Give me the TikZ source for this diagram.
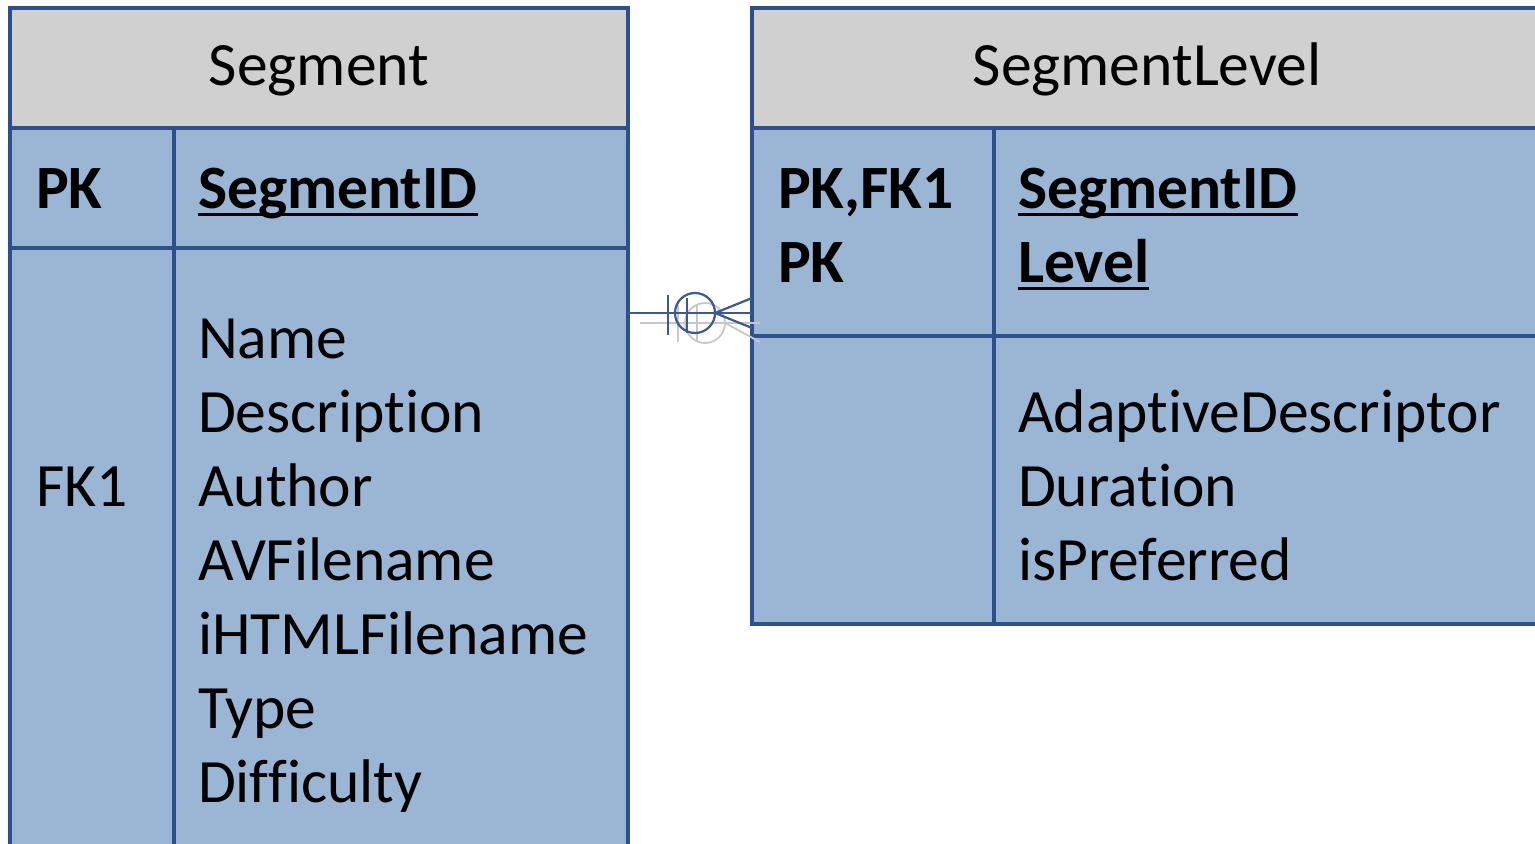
\documentclass[tikz,border=0pt]{standalone}
\usepackage{fontspec}
\setmainfont{Carlito}[Ligatures=NoCommon]
\definecolor{bordblue}{RGB}{46,80,138}
\definecolor{bodyfill}{RGB}{155,181,213}
\definecolor{headfill}{RGB}{208,208,208}
\definecolor{relcol}{RGB}{60,90,140}
\newcommand\tfont{\fontsize{30.8}{37}\selectfont}
\newcommand\myul[1]{\setbox0\hbox{#1}\rlap{\rule[-3.6pt]{\wd0}{1.5pt}}\box0}
\tikzset{
  cell/.style={draw=bordblue, line width=1.8pt, fill=bodyfill, inner sep=0pt, outer sep=0pt, anchor=north west},
  headcell/.style={cell, fill=headfill},
  txt/.style={inner sep=0pt, outer sep=0pt, anchor=base west, font=\tfont, text=black},
  headtxt/.style={txt, anchor=base},
  keytxt/.style={txt, font=\tfont\bfseries},
  rel/.style={draw=relcol, line width=1.1pt},
  ghost/.style={draw=black!22, line width=0.9pt},
}
\begin{document}
\begin{tikzpicture}[x=0.5pt, y=-0.5pt]
\useasboundingbox (0,0) rectangle (1535,844);
\clip (0,0) rectangle (1535,844);
\fill[white] (0,0) rectangle (1535,844);

% ---------- Segment table ----------
\node[headcell, minimum width=309pt, minimum height=60pt] (seghead) at (10,8) {};
\node[cell, minimum width=82pt, minimum height=60pt] (segpkkey) at (10,128) {};
\node[cell, minimum width=227pt, minimum height=60pt] (segpkname) at (174,128) {};
\node[cell, minimum width=82pt, minimum height=330pt] (segbodykey) at (10,248) {};
\node[cell, minimum width=227pt, minimum height=330pt] (segbodyname) at (174,248) {};

\node[headtxt] (segtitle) at (319,86) {Segment};
\node[keytxt] (segpk) at (36,209) {PK};
\node[keytxt] (segid) at (198,209) {\myul{SegmentID}};
\node[txt] (segfk) at (36,506) {FK1};
\node[txt] (a1) at (198,358) {Name};
\node[txt] (a2) at (198,432) {Description};
\node[txt] (a3) at (198,506) {Author};
\node[txt] (a4) at (198,580) {AVFilename};
\node[txt] (a5) at (198,654) {iHTMLFilename};
\node[txt] (a6) at (198,728) {Type};
\node[txt] (a7) at (198,802) {Difficulty};

% ---------- SegmentLevel table ----------
\node[headcell, minimum width=430pt, minimum height=60pt] (slhead) at (752,8) {};
\node[cell, minimum width=121pt, minimum height=104pt] (slpkkey) at (752,128) {};
\node[cell, minimum width=310pt, minimum height=104pt] (slpkname) at (994,128) {};
\node[cell, minimum width=121pt, minimum height=144pt] (slbodykey) at (752,336) {};
\node[cell, minimum width=310pt, minimum height=144pt] (slbodyname) at (994,336) {};

\node[headtxt] (sltitle) at (1147,86) {SegmentLevel};
\node[keytxt] (slk1) at (778,209) {PK,FK1};
\node[keytxt] (slk2) at (778,283) {PK};
\node[keytxt] (slid) at (1018,209) {\myul{SegmentID}};
\node[keytxt] (sllev) at (1018,283) {\myul{Level}};
\node[txt] (b1) at (1018,432) {AdaptiveDescriptor};
\node[txt] (b2) at (1018,506) {Duration};
\node[txt] (b3) at (1018,580) {isPreferred};

% ---------- relationship ----------
\coordinate (ry) at (0,313);
\coordinate (gy) at (0,323);
% faint ghost copy
\draw[ghost] ([xshift=6pt]segbodyname.east |- gy) -- ([xshift=4pt]slpkkey.west |- gy);
\draw[ghost] (678,305) -- (678,342);
\draw[ghost] (705,323) circle[radius=10pt];
\draw[ghost] (697,305) -- (697,342);
\draw[ghost] (725,323) -- (760,342);
% main relationship line
\draw[rel] (segbodyname.east |- ry) -- (slpkkey.west |- ry);
\draw[rel] (668,295) -- (668,335);
\draw[rel] (695,313) circle[radius=10pt];
\draw[rel] (687,298) -- (687,333);
\draw[rel] (715,313) -- (slpkkey.west |- 0,298);
\draw[rel] (715,313) -- (slpkkey.west |- 0,328);
\end{tikzpicture}
\end{document}
